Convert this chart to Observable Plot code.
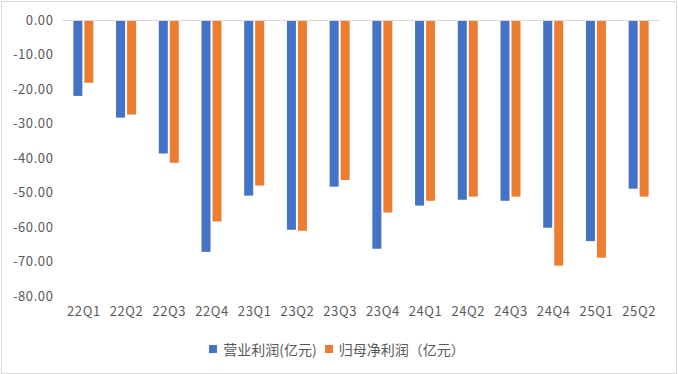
<!DOCTYPE html>
<html><head><meta charset="utf-8">
<script src="https://cdn.jsdelivr.net/npm/d3@7"></script>
<script src="https://cdn.jsdelivr.net/npm/@observablehq/plot@0.6"></script>
<style>
html,body{margin:0;padding:0;background:#fff;}
#frame{position:absolute;left:1px;top:1px;width:674px;height:371px;border:1px solid #d9d9d9;box-sizing:content-box;font-family:"Noto Sans CJK SC","Noto Sans",sans-serif;}
#legend{display:flex;justify-content:center;align-items:center;gap:8px;font-size:14px;color:#595959;margin-top:7px;padding-right:4px;}
#legend .item{display:flex;align-items:center;}
#legend .sw{width:8px;height:8px;display:inline-block;margin-right:6px;}
svg text{letter-spacing:0.6px;}
</style></head>
<body><div id="frame"></div>
<script>
const quarters = ["22Q1","22Q2","22Q3","22Q4","23Q1","23Q2","23Q3","23Q4","24Q1","24Q2","24Q3","24Q4","25Q1","25Q2"];
const opProfit = [-22.0,-28.3,-38.7,-67.2,-50.9,-60.8,-48.3,-66.3,-53.8,-52.1,-52.4,-60.2,-64.1,-48.9];
const netProfit = [-18.2,-27.4,-41.4,-58.4,-48.0,-61.1,-46.4,-55.8,-52.4,-51.2,-51.2,-71.2,-68.9,-51.2];
const seriesNames = ["营业利润(亿元)","归母净利润（亿元）"];
const yTicks = [0,-10,-20,-30,-40,-50,-60,-70,-80];
const colors = ["#4472C4","#ED7D31"];

const rowsA = quarters.map((q,i)=>({q, v: opProfit[i]}));
const rowsB = quarters.map((q,i)=>({q, v: netProfit[i]}));

const chart = Plot.plot({
  width: 674, height: 330,
  marginLeft: 60, marginRight: 16, marginTop: 18, marginBottom: 36,
  style: {fontFamily: '"Noto Sans CJK SC","Noto Sans",sans-serif', fontSize: "13px", color: "#595959", background: "#fff"},
  x: {domain: quarters, padding: 0, round: false, label: null, tickSize: 0, tickPadding: 10},
  y: {domain: [-80, 0], ticks: yTicks, tickFormat: d => d.toFixed(2), label: null, tickSize: 0, tickPadding: 9},
  marks: [
    Plot.barY(rowsA, {x: "q", y: "v", fill: colors[0], insetLeft: 11.35, insetRight: 22.35}),
    Plot.barY(rowsB, {x: "q", y: "v", fill: colors[1], insetLeft: 22.35, insetRight: 11.35}),
    Plot.ruleY([0], {stroke: "#d9d9d9"})
  ]
});
const frame = document.getElementById("frame");
frame.appendChild(chart);
const legend = document.createElement("div");
legend.id = "legend";
seriesNames.forEach((n,i)=>{
  const it = document.createElement("span"); it.className="item";
  const sw = document.createElement("span"); sw.className="sw"; sw.style.background = colors[i];
  it.appendChild(sw); it.appendChild(document.createTextNode(n));
  legend.appendChild(it);
});
frame.appendChild(legend);
</script></body></html>
